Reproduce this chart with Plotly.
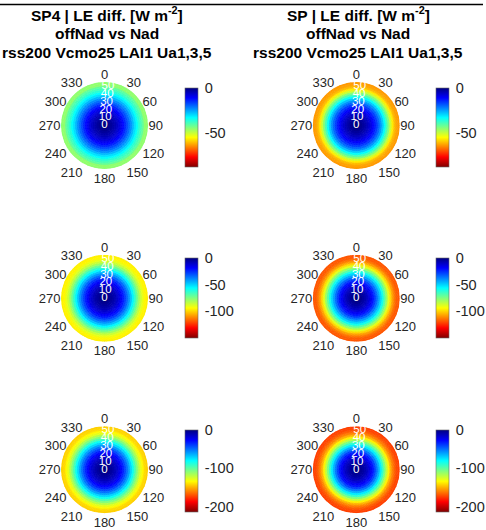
import plotly.graph_objects as go

W, H = 486, 530

# ---------------- data ----------------
col_titles_line1 = ["SP4 | LE diff. [W m<sup>-2</sup>]", "SP | LE diff. [W m<sup>-2</sup>]"]
title_line2 = "offNad vs Nad"
title_line3 = "rss200 Vcmo25 LAI1 Ua1,3,5"

angular_ticks = [0, 30, 60, 90, 120, 150, 180, 210, 240, 270, 300, 330]
angular_labels = [str(a) for a in angular_ticks]
radial_ticks = [0, 10, 20, 30, 40, 50]
radial_labels = [str(r) for r in radial_ticks]

# ring inner edges (view zenith, degrees) and ring width
ring_edges = [0, 2.5, 5, 7.5, 10, 12.5, 15, 17.5, 20, 22.5, 25, 27.5,
              30, 32.5, 35, 37.5, 40, 42.5, 45, 47.5, 50, 52.5]
ring_width = 2.5
azimuth_centers = list(range(0, 360, 5))
azimuth_width = 5

# LE difference per ring [W m-2]
le_sp4_row1 = [-0.5, -1, -1.5, -2.5, -3.5, -4.5, -6, -7.5, -9.5, -11.5, -14, -17,
               -20, -23, -26.5, -30, -33, -36, -38.5, -41, -45, -45]
le_sp_row1 = [-0.5, -1, -1.5, -2.5, -3.5, -5, -6.5, -8.5, -10.5, -13, -16, -19.5,
              -23.5, -28, -33, -38.5, -44, -50, -56, -60, -62, -63]
le_sp4_row2 = [-1, -2, -3, -4.5, -6, -8, -11, -14, -18, -22.5, -28, -34,
               -41, -48, -56, -64, -72, -80, -87, -92, -96, -97]
le_sp_row2 = [-1, -2, -3, -5, -7, -9.5, -13, -17, -22, -28, -35, -43,
              -51, -60, -70, -80, -91, -101, -109, -115, -119, -120]
le_sp4_row3 = [-1.5, -3, -4.5, -6.5, -9, -12, -16, -20.5, -26, -33, -41, -50,
               -60, -71, -82, -94, -106, -117, -127, -134, -140, -142]
le_sp_row3 = [-1.5, -3, -5, -7, -10, -13.5, -18, -24, -31, -40, -51, -63,
              -76, -90, -105, -120, -135, -148, -158, -165, -170, -172]

panels = [
    [le_sp4_row1, le_sp_row1],
    [le_sp4_row2, le_sp_row2],
    [le_sp4_row3, le_sp_row3],
]
row_cmin = [-87, -152, -212]
row_cbar_ticks = [[0, -50], [0, -50, -100], [0, -100, -200]]

# ---------------- styling / layout (pixels) ----------------
JET_R = [[0.0, "rgb(128,0,0)"], [0.125, "rgb(255,0,0)"], [0.375, "rgb(255,255,0)"],
         [0.625, "rgb(0,255,255)"], [0.875, "rgb(0,0,255)"], [1.0, "rgb(0,0,128)"]]

col_cx = [104.5, 356.3]
row_cy = [125.5, 298.3, 469.7]
R = 43.5
cbar_left = [185, 436]
cbar_rows = [(87.3, 166.7), (258.3, 338.3), (429.3, 511.7)]
TEXT = "#262626"
FONT = "Liberation Sans, Arial, sans-serif"

fig = go.Figure()
layout_polars = {}
k = 0
for ri in range(3):
    for ci in range(2):
        k += 1
        name = "polar" if k == 1 else f"polar{k}"
        vals = panels[ri][ci]
        base, rr, th, col = [], [], [], []
        for e, v in zip(ring_edges, vals):
            for a in azimuth_centers:
                base.append(e)
                rr.append(ring_width)
                th.append(a)
                col.append(v)
        top, bot = cbar_rows[ri]
        fig.add_trace(go.Barpolar(
            r=rr, base=base, theta=th, width=[azimuth_width] * len(th),
            subplot=name, hoverinfo="skip", showlegend=False,
            marker=dict(
                color=col, colorscale=JET_R, cmin=row_cmin[ri], cmax=0,
                line=dict(color=col, colorscale=JET_R, cmin=row_cmin[ri], cmax=0, width=0.6),
                colorbar=dict(
                    x=cbar_left[ci] / W, xanchor="left", xpad=0,
                    y=1 - (top + bot) / 2 / H, yanchor="middle", ypad=0,
                    len=bot - top, lenmode="pixels",
                    thickness=13, thicknessmode="pixels",
                    outlinewidth=0.6, outlinecolor="#666",
                    tickvals=row_cbar_ticks[ri],
                    ticktext=[str(t) for t in row_cbar_ticks[ri]],
                    ticks="outside", ticklen=4, tickcolor="rgba(0,0,0,0)",
                    tickfont=dict(size=14.5, color=TEXT, family=FONT),
                ),
            ),
        ))
        fig.add_trace(go.Scatterpolar(
            r=radial_ticks, theta=[5] * len(radial_ticks), text=radial_labels,
            mode="text", subplot=name, hoverinfo="skip", showlegend=False,
            textfont=dict(color="white", size=11.5, family=FONT),
        ))
        cx, cy = col_cx[ci], row_cy[ri]
        layout_polars[name] = dict(
            domain=dict(x=[(cx - R) / W, (cx + R) / W],
                        y=[1 - (cy + R) / H, 1 - (cy - R) / H]),
            bgcolor="white", hole=0,
            angularaxis=dict(
                rotation=90, direction="clockwise",
                tickmode="array", tickvals=angular_ticks, ticktext=angular_labels,
                showline=False, ticks="",
                tickfont=dict(size=13, color=TEXT, family=FONT),
                showgrid=True, gridcolor="rgba(90,90,90,0.28)", gridwidth=0.6,
                layer="above traces",
            ),
            radialaxis=dict(
                range=[0, 55], tickvals=radial_ticks[1:], showticklabels=False,
                ticks="", showline=False, showgrid=True,
                gridcolor="rgba(90,90,90,0.28)", gridwidth=0.6,
                layer="above traces",
            ),
        )

annotations = []
title_y = [14, 33.5, 53]
for ci in range(2):
    for line_text, ty in zip([col_titles_line1[ci], title_line2, title_line3], title_y):
        annotations.append(dict(
            x=(col_cx[ci] + 2) / W, y=1 - ty / H, xref="paper", yref="paper",
            text=f"<b>{line_text}</b>", showarrow=False,
            xanchor="center", yanchor="middle",
            font=dict(size=15.5, color="black", family=FONT),
        ))

fig.update_layout(
    width=W, height=H, margin=dict(l=0, r=0, t=0, b=0),
    paper_bgcolor="white", plot_bgcolor="white",
    annotations=annotations,
    shapes=[dict(type="line", xref="paper", yref="paper", layer="above",
                 x0=0, x1=483 / W, y0=1 - 4.5 / H, y1=1 - 4.5 / H,
                 line=dict(color="black", width=1.5))],
    **layout_polars,
)

fig.write_html(
    "out.html",
    config={"displayModeBar": False},
    post_script="document.body.style.margin='0';document.body.style.overflow='hidden';",
)
